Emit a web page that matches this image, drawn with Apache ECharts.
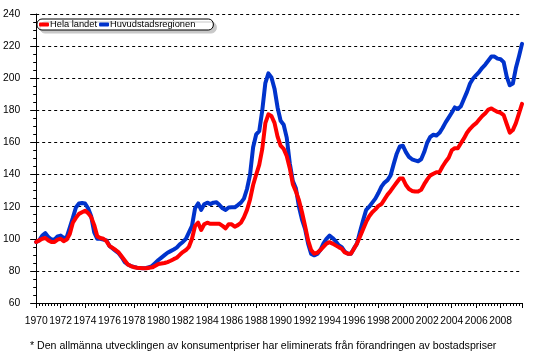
<!DOCTYPE html>
<html>
<head>
<meta charset="utf-8">
<script src="https://cdn.jsdelivr.net/npm/echarts@6/dist/echarts.min.js"></script>
<style>
  html, body { margin: 0; padding: 0; background: #fff; }
  #chart { width: 555px; height: 351px; }
</style>
</head>
<body>
<div id="chart"></div>
<script>
// quarterly series, 1970Q1 .. 2009Q4
var startYear = 1970;
var perYear = 4;
var seriesNames = ["Hela landet", "Huvudstadsregionen"];
var helaLandet = [
    98, 99, 100, 100.5,   99, 98, 98, 99.5,   100, 98.5, 99.5, 103,   110, 113, 115.5, 116.5,
    117.5, 116, 113.5, 108.5,   101.5, 100.5, 100, 98.5,   95.5, 94.3, 93, 91.5,   89, 86.5, 84, 83,
    82.3, 82, 81.8, 81.6,   81.6, 82, 82.2, 83.2,   84.3, 84.6, 84.9, 85.5,   86.3, 87.3, 88.2, 90,
    91.7, 93, 95, 100,   108, 110, 105.5, 109,   110, 109.3, 109.3, 109.3,   109.3, 108, 106.5, 109,
    109, 107.5, 108.5, 110,   113.4, 118, 124.5, 133.5,   140, 146, 156, 172,   177.5, 176.5, 172.2, 163.6,
    158, 156, 151.5, 144,   134, 129.5, 124, 116.5,   108, 99, 93, 90.7,   91.3, 93, 95, 97,
    97.9, 97, 95.9, 94.8,   93.8, 91.5, 90.7, 90.7,   93.8, 97, 101.5, 106,   110.5, 114, 116.5, 118.3,
    120.5, 121.6, 124.5, 127.5,   129.8, 132.5, 135, 137.5,   137.5, 133.5, 131, 129.8,   129.4, 129.5, 130.5, 134,
    137, 139.5, 140.5, 141.5,   141.5, 145, 148, 150.5,   155, 156.4, 156.4, 159.5,   162.5, 166, 168.5, 170.5,
    172, 174.3, 176.5, 178.2,   180.5, 181.2, 180, 179,   178.4, 177, 171.5, 166.1,   167.7, 172, 178, 184
];
var huvudstad = [
    98, 99, 102, 103.5,   101, 99.5, 99.5, 101.5,   102, 100.5, 101, 107,   113, 119.5, 122, 122.3,
    122, 119, 114, 104,   100, 100, 99.5, 99,   95.5, 94, 92.5, 91,   88.5, 85.5, 84, 83,
    82.5, 82, 81.8, 81.7,   81.8, 82.3, 83.2, 85,   86.8, 88.3, 89.8, 91.3,   92.3, 93.3, 94.5, 96.5,
    98, 100, 104, 108,   119, 122, 118, 121.5,   122.5, 121.6, 122.5, 122.7,   121, 119, 118, 119.5,
    119.6, 119.6, 121, 122.5,   125, 131, 140, 157,   165, 167, 180, 197,   203, 200.5, 193.5, 181.8,
    173.5, 171, 163, 147,   136, 131.5, 120, 112,   106.2, 97, 90.5, 89.7,   90.5, 93, 97, 100,
    102, 100.5, 98.5, 96,   94.8, 92, 90.7, 90.7,   94, 97, 104.5, 111.5,   118, 120, 122.5, 125,
    128.5, 132.5, 135, 136.5,   139.5, 146.5, 153, 157.5,   158, 154, 151, 149.5,   148.8, 148.3, 149.5, 154,
    160, 163.5, 164.8, 164.3,   166, 169, 172.5, 175.5,   178.5, 181.8, 180.8, 182.5,   187, 191.5, 196.7, 199.8,
    202, 204, 206.5, 208.5,   211, 213.5, 213.5, 212.2,   211.8, 210, 201, 195.6,   196.7, 206.3, 213.6, 221.4
];
var footnote = "* Den allmänna utvecklingen av konsumentpriser har eliminerats från förandringen av bostadspriser";

function toPairs(arr) {
    var out = [];
    for (var i = 0; i < arr.length; i++) {
        out.push([startYear + i / perYear, arr[i]]);
    }
    return out;
}

var font = "Liberation Sans, Arial, sans-serif";
var chart = echarts.init(document.getElementById("chart"));
var option = {
    animation: false,
    backgroundColor: "#fff",
    grid: { left: 32, right: 33, top: 14, bottom: 48 },
    legend: {
        data: seriesNames,
        left: 37, top: 19,
        orient: "horizontal",
        icon: "roundRect",
        itemWidth: 10, itemHeight: 4, itemGap: 2,
        padding: [1, 18, 1, 2],
        borderColor: "#000", borderWidth: 1, borderRadius: 5,
        backgroundColor: "#fff",
        shadowColor: "#c8c8c8", shadowBlur: 0, shadowOffsetX: 3, shadowOffsetY: 3,
        textStyle: { fontFamily: font, fontSize: 9.3, color: "#000", padding: [0, 0, 0, -4] }
    },
    xAxis: {
        type: "value",
        min: 1970, max: 2009.75, interval: 2,
        axisLine: { lineStyle: { color: "#000", width: 1 } },
        axisTick: { length: 5, lineStyle: { color: "#000" } },
        minorTick: { show: true, splitNumber: 8, length: 3, lineStyle: { color: "#000" } },
        splitLine: { show: false },
        axisLabel: {
            fontFamily: font, fontSize: 10.3, color: "#000", margin: 13,
            showMaxLabel: false,
            formatter: function (v) { return (v % 2 === 0) ? String(v) : ""; }
        }
    },
    yAxis: {
        type: "value",
        min: 60, max: 240, interval: 20,
        axisLine: { show: true, lineStyle: { color: "#000", width: 1 } },
        axisTick: { show: true, length: 6, lineStyle: { color: "#000" } },
        minorTick: { show: true, splitNumber: 4, length: 3, lineStyle: { color: "#000" } },
        splitLine: { show: true, lineStyle: { color: "#000", type: [3, 3], width: 1 } },
        axisLabel: { fontFamily: font, fontSize: 10.3, color: "#000", margin: 16 }
    },
    series: [
        {
            name: "Huvudstadsregionen", type: "line", data: toPairs(huvudstad),
            showSymbol: false, color: "#0033CC",
            lineStyle: { width: 4, color: "#0033CC", cap: "round", join: "round" }
        },
        {
            name: "Hela landet", type: "line", data: toPairs(helaLandet),
            showSymbol: false, color: "#FF0000",
            lineStyle: { width: 4, color: "#FF0000", cap: "round", join: "round" }
        }
    ],
    graphic: [
        {
            type: "text", left: 30, top: 341,
            style: { text: footnote, fontFamily: font, fontSize: 10.6, fill: "#000" }
        }
    ]
};
chart.setOption(option);
</script>
</body>
</html>
